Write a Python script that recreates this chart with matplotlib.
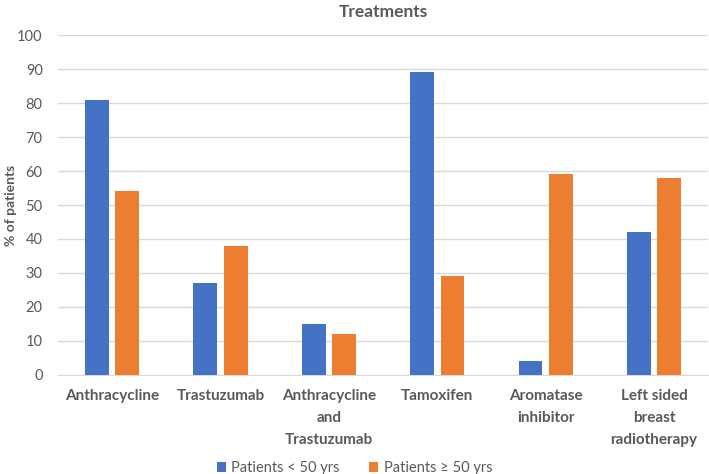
import matplotlib.pyplot as plt
import numpy as np

categories = ["Anthracycline", "Trastuzumab", "Anthracycline\nand\nTrastuzumab",
              "Tamoxifen", "Aromatase\ninhibitor", "Left sided\nbreast\nradiotherapy"]
under_50 = [81, 27, 15, 89, 4, 42]
over_50 = [54, 38, 12, 29, 59, 58]
series_names = ["Patients < 50 yrs", "Patients \u2265 50 yrs"]

plt.rcParams['font.family'] = ['Lato', 'DejaVu Sans']
grey = "#595959"

fig = plt.figure(figsize=(7.09, 4.74), dpi=100)
ax = fig.add_axes([0.0818, 0.209, 0.917, 0.717])

x = np.arange(len(categories))
w = 0.22
off = 0.14
ax.bar(x - off, under_50, w, color="#4472C4", label=series_names[0], zorder=3)
ax.bar(x + off, over_50, w, color="#ED7D31", label=series_names[1], zorder=3)

ax.set_xlim(-0.5, len(categories) - 0.5)
ax.set_ylim(0, 100)
ax.set_yticks(np.arange(0, 101, 10))
ax.yaxis.grid(True, color="#D9D9D9", linewidth=1, zorder=0)
for s in ["top", "right", "left"]:
    ax.spines[s].set_visible(False)
ax.spines["bottom"].set_color("#D9D9D9")
ax.tick_params(axis="both", length=0, colors=grey, labelsize=10.5)
ax.tick_params(axis="y", pad=11)
ax.set_xticks(x)
ax.set_xticklabels(categories, fontweight="bold", linespacing=1.75, fontsize=11)
ax.tick_params(axis="x", pad=10)

ax.set_ylabel("% of patients", fontweight="bold", color=grey, fontsize=10)
ax.yaxis.set_label_coords(-0.063, 0.5)
ax.set_title("Treatments", fontweight="bold", color=grey, fontsize=12.5, pad=13)

leg = fig.legend(loc="lower center", ncol=2, frameon=False, bbox_to_anchor=(0.5, -0.03),
                 fontsize=10.5, handlelength=0.6, handleheight=0.6, columnspacing=2.0,
                 handletextpad=0.4)
for t in leg.get_texts():
    t.set_color(grey)

fig.savefig("out.png", dpi=100)
